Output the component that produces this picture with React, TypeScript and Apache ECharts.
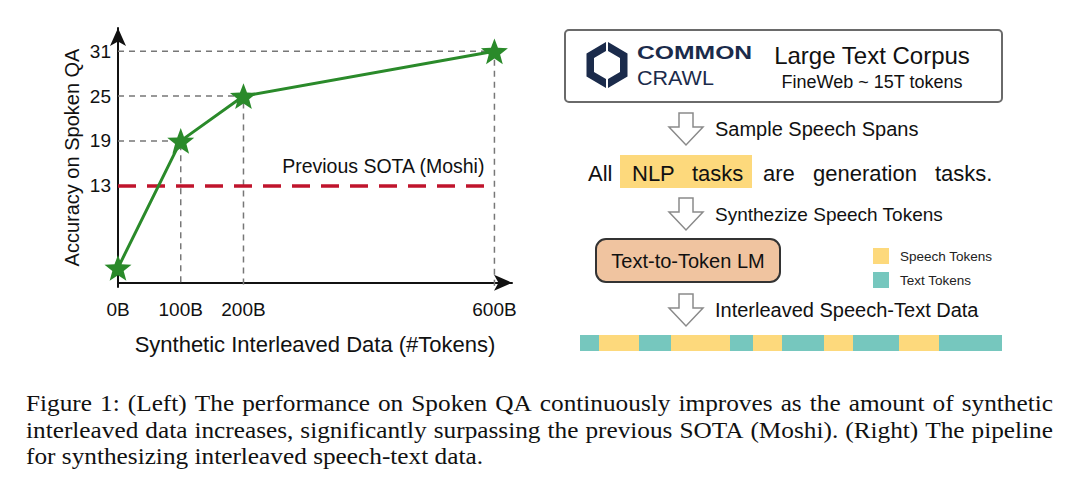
import React, { useEffect, useRef } from "react";
import * as echarts from "echarts";

// ---------- data ----------
const dataTokens = [0, 100, 200, 600]; // billions of synthetic tokens
const accuracy = [2, 19, 25, 31];
const xTickLabels = ["0B", "100B", "200B", "600B"];
const yTickValues = [13, 19, 25, 31];
const sotaValue = 13;
const sotaRange = [0, 600];
const sotaLabel = "Previous SOTA (Moshi)";
const xAxisName = "Synthetic Interleaved Data (#Tokens)";
const yAxisName = "Accuracy on Spoken QA";

const tokenTypes = ["text", "speech", "text", "speech", "text", "speech", "text", "speech", "text", "speech", "text"];
const tokenLengths = [19, 40, 32, 59, 23, 29, 42, 29, 46, 40, 63];

const pipelineSteps = ["Sample Speech Spans", "Synthezize Speech Tokens", "Interleaved Speech-Text Data"];
const sentenceWords = ["All", "NLP", "tasks", "are", "generation", "tasks."];
const captionLines = [
  "Figure 1: (Left) The performance on Spoken QA continuously improves as the amount of synthetic",
  "interleaved data increases, significantly surpassing the previous SOTA (Moshi). (Right) The pipeline",
  "for synthesizing interleaved speech-text data.",
];

// ---------- styles ----------
const GREEN = "#2a8a2a";
const RED = "#c0142c";
const YELLOW = "#fdd97c";
const TEAL = "#76c7be";
const NAVY = "#1b2b4b";
const SANS = "'Liberation Sans', Arial, Helvetica, sans-serif";
const SERIF = "'Liberation Serif', 'Times New Roman', serif";
const STAR =
  "path://M50,0L62.35,33.01L97.55,34.55L69.97,56.49L79.39,90.45L50,71L20.61,90.45L30.03,56.49L2.45,34.55L37.65,33.01Z";

function measure(text: string, font: string) {
  const c = document.createElement("canvas").getContext("2d");
  if (!c) return text.length * 10;
  c.font = font;
  return c.measureText(text).width;
}

function captionElements() {
  const size = 22.5;
  const font = `${size}px "Liberation Serif"`;
  const x0 = 26;
  const x1 = 1053;
  const lastLineEnd = 483;
  const ys = [403, 430, 456];
  const lastLine = captionLines[captionLines.length - 1];
  const sx = (lastLineEnd - x0) / measure(lastLine, font);
  const els: any[] = [];
  captionLines.forEach((line, li) => {
    const words = line.split(" ");
    const widths = words.map((w) => measure(w, font) * sx);
    const total = widths.reduce((a, b) => a + b, 0);
    const justify = li < captionLines.length - 1;
    const gap = justify ? (x1 - x0 - total) / (words.length - 1) : measure(" ", font) * sx;
    let x = x0;
    words.forEach((w, i) => {
      els.push({
        type: "text",
        x,
        y: ys[li],
        scaleX: sx,
        style: { text: w, fontSize: size, fontFamily: SERIF, fill: "#111", verticalAlign: "middle", align: "left" },
      });
      x += widths[i] + gap;
    });
  });
  return els;
}

function hollowArrow(cx: number, top: number) {
  const h = 32, hw = 7, headW = 17, headY = top + 14;
  return {
    type: "polygon",
    shape: {
      points: [
        [cx - hw, top], [cx + hw, top], [cx + hw, headY], [cx + headW, headY],
        [cx, top + h], [cx - headW, headY], [cx - hw, headY],
      ],
    },
    style: { fill: "#fff", stroke: "#8a8a8a", lineWidth: 1.5 },
  };
}

function rightPanel() {
  const els: any[] = [];
  // corpus box
  els.push({
    type: "rect",
    shape: { x: 565, y: 30, width: 437, height: 72, r: 4 },
    style: { fill: "#fff", stroke: "#6a6a6a", lineWidth: 2 },
  });
  // logo
  const cx = 607, top = 42, bot = 88, side = 19.5, it = 51, ib = 79, iside = 12;
  els.push({
    type: "polygon",
    shape: { points: [[cx - 1, top], [cx - 1 - side, 53.5], [cx - 1 - side, 76.5], [cx - 1, bot], [cx - 1, ib], [cx - 1 - iside, 72], [cx - 1 - iside, 58], [cx - 1, it]] },
    style: { fill: NAVY },
  });
  els.push({
    type: "polygon",
    shape: { points: [[cx + 1, top], [cx + 1 + side, 53.5], [cx + 1 + side, 76.5], [cx + 1, bot], [cx + 1, ib], [cx + 1 + iside, 72], [cx + 1 + iside, 58], [cx + 1, it]] },
    style: { fill: NAVY },
  });
  els.push({ type: "text", x: 637, y: 53, scaleX: 1.3, style: { text: "COMMON", fontSize: 19, fontWeight: "bold", fontFamily: SANS, fill: NAVY, verticalAlign: "middle" } });
  els.push({ type: "text", x: 637, y: 78, scaleX: 1.05, style: { text: "CRAWL", fontSize: 20.5, fontFamily: SANS, fill: NAVY, verticalAlign: "middle" } });
  els.push({ type: "text", x: 872, y: 55, style: { text: "Large Text Corpus", fontSize: 24, fontFamily: SANS, fill: "#111", align: "center", verticalAlign: "middle" } });
  els.push({ type: "text", x: 872, y: 82, style: { text: "FineWeb ~ 15T tokens", fontSize: 18, fontFamily: SANS, fill: "#111", align: "center", verticalAlign: "middle" } });

  // arrows + step labels
  const arrowTops = [113, 198, 294];
  arrowTops.forEach((t, i) => {
    els.push(hollowArrow(686, t));
    els.push({
      type: "text", x: 715, y: t + 16,
      style: { text: pipelineSteps[i], fontSize: i === 1 ? 19 : 20, fontFamily: SANS, fill: "#111", verticalAlign: "middle" },
    });
  });

  // sentence
  els.push({ type: "rect", shape: { x: 620, y: 155, width: 132, height: 33 }, style: { fill: YELLOW } });
  const wordX = [588, 632, 692, 763, 813, 935];
  sentenceWords.forEach((w, i) => {
    els.push({ type: "text", x: wordX[i], y: 173, style: { text: w, fontSize: 22, fontFamily: SANS, fill: "#111", verticalAlign: "middle" } });
  });

  // Text-to-Token LM
  els.push({
    type: "rect",
    shape: { x: 596, y: 239, width: 184, height: 43, r: 10 },
    style: { fill: "#f0c4a0", stroke: "#333", lineWidth: 2 },
  });
  els.push({ type: "text", x: 688, y: 261, style: { text: "Text-to-Token LM", fontSize: 20, fontFamily: SANS, fill: "#111", align: "center", verticalAlign: "middle" } });

  // legend
  els.push({ type: "rect", shape: { x: 873, y: 248, width: 16, height: 16 }, style: { fill: YELLOW } });
  els.push({ type: "text", x: 900, y: 256, style: { text: "Speech Tokens", fontSize: 13.5, fontFamily: SANS, fill: "#222", verticalAlign: "middle" } });
  els.push({ type: "rect", shape: { x: 873, y: 272, width: 16, height: 16 }, style: { fill: TEAL } });
  els.push({ type: "text", x: 900, y: 280, style: { text: "Text Tokens", fontSize: 13.5, fontFamily: SANS, fill: "#222", verticalAlign: "middle" } });
  return els;
}

export default function App() {
  const ref = useRef<HTMLDivElement>(null);
  useEffect(() => {
    if (!ref.current) return;
    const chart = echarts.init(ref.current, undefined, { renderer: "svg" });
    const yMin = -0.57;
    const points = dataTokens.map((x, i) => [x, accuracy[i]]);
    const guideSeries = dataTokens
      .map((x, i) => ({ x, y: accuracy[i] }))
      .filter((p) => p.x > 0)
      .map((p) => ({
        type: "line",
        xAxisIndex: 0,
        yAxisIndex: 0,
        data: [[0, p.y], [p.x, p.y], [p.x, yMin]],
        symbol: "none",
        silent: true,
        lineStyle: { color: "#777", width: 1.5, type: [6, 5] },
        z: 2,
      }));
    const tokenSeries = tokenLengths.map((len, i) => ({
      type: "bar",
      xAxisIndex: 1,
      yAxisIndex: 1,
      stack: "tokens",
      data: [len],
      barWidth: 16,
      itemStyle: { color: tokenTypes[i] === "speech" ? YELLOW : TEAL },
      silent: true,
    }));
    const tokenTotal = tokenLengths.reduce((a, b) => a + b, 0);

    chart.setOption({
      animation: false,
      backgroundColor: "#fff",
      textStyle: { fontFamily: SANS },
      grid: [
        { left: 118, top: 28, width: 394, height: 259, outerBoundsMode: "none" },
        { left: 580, top: 335, width: 422, height: 16, outerBoundsMode: "none" },
      ],
      xAxis: [
        {
          type: "value",
          gridIndex: 0,
          min: 0,
          max: 628,
          name: xAxisName,
          nameLocation: "middle",
          nameGap: 46,
          nameTextStyle: { fontSize: 22, color: "#111", fontFamily: SANS },
          axisLine: { show: true, lineStyle: { color: "#111", width: 2 }, symbol: ["none", "arrow"], symbolSize: [12, 18] },
          axisTick: { show: false },
          splitLine: { show: false },
          axisLabel: {
            customValues: dataTokens,
            formatter: (v: number) => xTickLabels[dataTokens.indexOf(v)] ?? "",
            fontSize: 19,
            color: "#111",
            margin: 13,
            fontFamily: SANS,
          },
        },
        { type: "value", gridIndex: 1, min: 0, max: tokenTotal, show: false },
      ],
      yAxis: [
        {
          type: "value",
          gridIndex: 0,
          min: yMin,
          max: 34.12,
          name: yAxisName,
          nameLocation: "middle",
          nameGap: 36,
          nameRotate: 90,
          nameTextStyle: { fontSize: 20, color: "#111", fontFamily: SANS },
          axisLine: { show: true, lineStyle: { color: "#111", width: 2 }, symbol: ["none", "arrow"], symbolSize: [12, 18] },
          axisTick: { show: false },
          splitLine: { show: false },
          axisLabel: { customValues: yTickValues, fontSize: 19, color: "#111", margin: 7, fontFamily: SANS },
        },
        { type: "category", gridIndex: 1, data: ["tokens"], show: false },
      ],
      series: [
        ...guideSeries,
        {
          type: "line",
          xAxisIndex: 0,
          yAxisIndex: 0,
          data: [],
          z: 3,
          markLine: {
            silent: true,
            symbol: ["none", "none"],
            lineStyle: { color: RED, width: 3.5, type: [18, 11] },
            label: {
              show: true,
              position: "insideEndTop",
              formatter: sotaLabel,
              color: "#111",
              fontSize: 19.5,
              fontFamily: SANS,
              distance: 10,
            },
            data: [[{ coord: [sotaRange[0], sotaValue] }, { coord: [sotaRange[1], sotaValue] }]],
          },
        },
        {
          type: "line",
          xAxisIndex: 0,
          yAxisIndex: 0,
          data: points,
          symbol: STAR,
          symbolSize: 27,
          symbolKeepAspect: true,
          lineStyle: { color: GREEN, width: 3 },
          itemStyle: { color: GREEN },
          z: 10,
        },
        ...tokenSeries,
      ],
      graphic: { elements: [...rightPanel(), ...captionElements()] },
    });
    return () => chart.dispose();
  }, []);
  return <div ref={ref} style={{ width: 1080, height: 490, position: "absolute", left: 0, top: 0 }} />;
}
